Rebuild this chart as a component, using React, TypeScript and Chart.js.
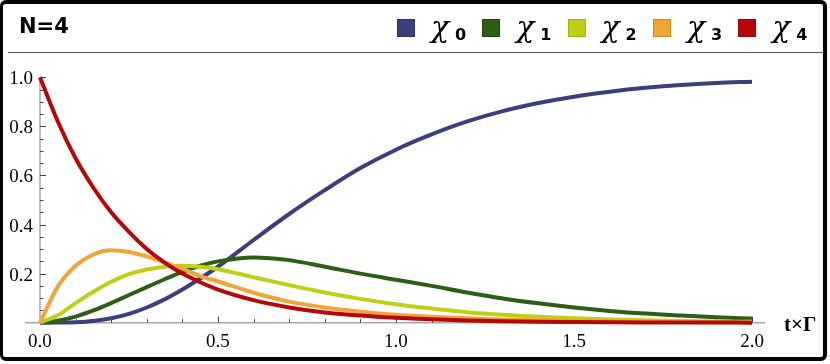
import React, { useEffect, useRef } from "react";
import { Chart, registerables } from "chart.js";

Chart.register(...registerables);

// ---------- data ----------
const tValues = [0, 0.05, 0.1, 0.15, 0.2, 0.25, 0.3, 0.35, 0.4, 0.45, 0.5, 0.6, 0.7, 0.8, 0.9, 1.0, 1.1, 1.2, 1.3, 1.4, 1.5, 1.6, 1.7, 1.8, 1.9, 2.0];
const chi0 = [0, 0.0005, 0.002, 0.007, 0.018, 0.036, 0.062, 0.095, 0.135, 0.18, 0.228, 0.337, 0.443, 0.54, 0.63, 0.705, 0.767, 0.82, 0.862, 0.895, 0.921, 0.941, 0.957, 0.969, 0.977, 0.982];
const chi1 = [0, 0.008, 0.025, 0.05, 0.08, 0.113, 0.145, 0.177, 0.207, 0.232, 0.25, 0.266, 0.255, 0.228, 0.2, 0.175, 0.15, 0.123, 0.099, 0.079, 0.062, 0.048, 0.037, 0.029, 0.022, 0.017];
const chi2 = [0, 0.03, 0.08, 0.126, 0.167, 0.198, 0.217, 0.228, 0.232, 0.228, 0.218, 0.185, 0.153, 0.123, 0.097, 0.075, 0.058, 0.043, 0.032, 0.024, 0.018, 0.013, 0.01, 0.007, 0.005, 0.004];
const chi3 = [0, 0.147, 0.232, 0.278, 0.295, 0.288, 0.27, 0.245, 0.22, 0.19, 0.168, 0.122, 0.086, 0.062, 0.045, 0.032, 0.024, 0.018, 0.013, 0.01, 0.007, 0.005, 0.004, 0.003, 0.002, 0.0015];
const chi4 = [1.0, 0.82, 0.67, 0.55, 0.45, 0.37, 0.30, 0.245, 0.2, 0.165, 0.135, 0.092, 0.062, 0.042, 0.029, 0.02, 0.014, 0.009, 0.006, 0.004, 0.003, 0.002, 0.0012, 0.0008, 0.0005, 0.0003];

const seriesSymbol = "χ";
const seriesSubscripts = ["0", "1", "2", "3", "4"];
const titleText = "N=4";
const xAxisTitle = "t×Γ";
const xTickValues = [0, 0.5, 1.0, 1.5, 2.0];
const xTickLabels = ["0.0", "0.5", "1.0", "1.5", "2.0"];
const yTickValues = [0.2, 0.4, 0.6, 0.8, 1.0];
const yTickLabels = ["0.2", "0.4", "0.6", "0.8", "1.0"];

// ---------- styles ----------
const COLORS = ["#3c3f7d", "#2c5f14", "#bdd016", "#f1a537", "#b80606"];
const BORDERS = ["#2e3163", "#1f470c", "#9fb00e", "#d08a22", "#960404"];
const TICK_FONT = "19px 'Liberation Serif', 'Times New Roman', serif";

const axesPlugin = {
  id: "mmaAxes",
  beforeDatasetsDraw(chart: any) {
    const { ctx } = chart;
    const xs = chart.scales.x;
    const ys = chart.scales.y;
    const x0 = xs.getPixelForValue(0);
    const y0 = ys.getPixelForValue(0);
    ctx.save();
    ctx.strokeStyle = "#a8a8a8";
    ctx.lineWidth = 1.5;
    ctx.beginPath();
    ctx.moveTo(xs.left, y0);
    ctx.lineTo(xs.right, y0);
    ctx.stroke();
    ctx.beginPath();
    ctx.moveTo(x0, ys.getPixelForValue(1.0));
    ctx.lineTo(x0, y0);
    ctx.stroke();

    ctx.strokeStyle = "#444";
    ctx.lineWidth = 1;
    for (let i = 1; i <= 20; i++) {
      const px = Math.round(xs.getPixelForValue(i * 0.1)) + 0.5;
      const len = i % 5 === 0 ? 6 : 3.5;
      ctx.beginPath();
      ctx.moveTo(px, y0);
      ctx.lineTo(px, y0 - len);
      ctx.stroke();
    }
    for (let i = 1; i <= 20; i++) {
      const py = Math.round(ys.getPixelForValue(i * 0.05)) + 0.5;
      const len = i % 4 === 0 ? 6 : 3.5;
      ctx.beginPath();
      ctx.moveTo(x0, py);
      ctx.lineTo(x0 + len, py);
      ctx.stroke();
    }

    ctx.fillStyle = "#000";
    ctx.font = TICK_FONT;
    ctx.textBaseline = "alphabetic";
    ctx.textAlign = "center";
    xTickValues.forEach((v, i) => {
      ctx.fillText(xTickLabels[i], xs.getPixelForValue(v), y0 + 24.5);
    });
    ctx.textAlign = "right";
    yTickValues.forEach((v, i) => {
      ctx.fillText(yTickLabels[i], x0 - 7, ys.getPixelForValue(v) + 7);
    });
    ctx.restore();
  },
};

function baselineTop(baseline: number, fs: number, k: number) {
  return baseline - k * fs;
}

export default function App() {
  const canvasRef = useRef<HTMLCanvasElement | null>(null);

  useEffect(() => {
    document.body.style.margin = "0";
    const series = [chi0, chi1, chi2, chi3, chi4];
    const chart = new Chart(canvasRef.current as HTMLCanvasElement, {
      type: "line",
      data: {
        datasets: series.map((s, i) => ({
          label: seriesSymbol + seriesSubscripts[i],
          data: tValues.map((t, j) => ({ x: t, y: s[j] })),
          borderColor: COLORS[i],
          backgroundColor: COLORS[i],
          borderWidth: 4,
          pointRadius: 0,
          fill: false,
          cubicInterpolationMode: "monotone",
          order: 4 - i,
          clip: false,
        })),
      },
      options: {
        animation: false,
        responsive: false,
        devicePixelRatio: 1,
        layout: { padding: { left: 25, right: 65, top: 77.3, bottom: 41.3 } },
        scales: {
          x: { type: "linear", min: -0.0421, max: 2.0365, display: false },
          y: { type: "linear", min: 0, max: 1, display: false },
        },
        plugins: { legend: { display: false }, tooltip: { enabled: false } },
        elements: { line: { borderCapStyle: "butt", borderJoinStyle: "round" } },
      },
      plugins: [axesPlugin],
    } as any);
    let alive = true;
    if ((document as any).fonts && (document as any).fonts.load) {
      (document as any).fonts
        .load(TICK_FONT)
        .then(() => {
          if (alive) chart.update();
        })
        .catch(() => {});
    }
    return () => {
      alive = false;
      chart.destroy();
    };
  }, []);

  const sansK = 0.846; // DejaVu Sans baseline offset with line-height = font-size
  const serifK = 0.8375; // Liberation Serif
  const dvSerifK = 0.846; // DejaVu Serif

  return (
    <div style={{ position: "fixed", left: 0, top: 0, width: 830, height: 364, background: "#fff", overflow: "hidden" }}>
      <canvas ref={canvasRef} width={830} height={364} style={{ position: "absolute", left: 0, top: 0, width: 830, height: 364 }} />
      <div
        style={{
          position: "absolute",
          left: 19,
          top: baselineTop(33.3, 21, sansK),
          fontFamily: "'DejaVu Sans'",
          fontWeight: "bold",
          fontSize: 21,
          lineHeight: "21px",
          whiteSpace: "nowrap",
        }}
      >
        {titleText}
      </div>
      <div style={{ position: "absolute", left: 8, top: 51.6, width: 815, height: 1.5, background: "#555" }} />
      {seriesSubscripts.map((sub, i) => {
        const base = i * 85.3;
        return (
          <React.Fragment key={sub}>
            <div
              style={{
                position: "absolute",
                left: 397 + base,
                top: 19,
                width: 18,
                height: 18,
                boxSizing: "border-box",
                background: COLORS[i],
                border: "1px solid " + BORDERS[i],
              }}
            />
            <div
              style={{
                position: "absolute",
                left: 431 + base,
                top: baselineTop(37.5, 30, dvSerifK),
                fontFamily: "'DejaVu Serif'",
                fontStyle: "italic",
                fontSize: 30,
                lineHeight: "30px",
                whiteSpace: "nowrap",
              }}
            >
              {seriesSymbol}
            </div>
            <div
              style={{
                position: "absolute",
                left: 455 + base,
                top: baselineTop(40.5, 16, sansK),
                fontFamily: "'DejaVu Sans'",
                fontWeight: "bold",
                fontSize: 16,
                lineHeight: "16px",
                whiteSpace: "nowrap",
              }}
            >
              {sub}
            </div>
          </React.Fragment>
        );
      })}
      <div
        style={{
          position: "absolute",
          left: 784,
          top: baselineTop(332, 21, serifK),
          fontFamily: "'Liberation Serif'",
          fontWeight: "bold",
          fontSize: 21,
          lineHeight: "21px",
          whiteSpace: "nowrap",
        }}
      >
        {xAxisTitle}
      </div>
      <div
        style={{
          position: "absolute",
          left: 0,
          top: 0,
          width: 827,
          height: 361,
          boxSizing: "border-box",
          border: "4px solid #000",
          borderLeftWidth: 3,
          borderRadius: 6,
          pointerEvents: "none",
        }}
      />
    </div>
  );
}
